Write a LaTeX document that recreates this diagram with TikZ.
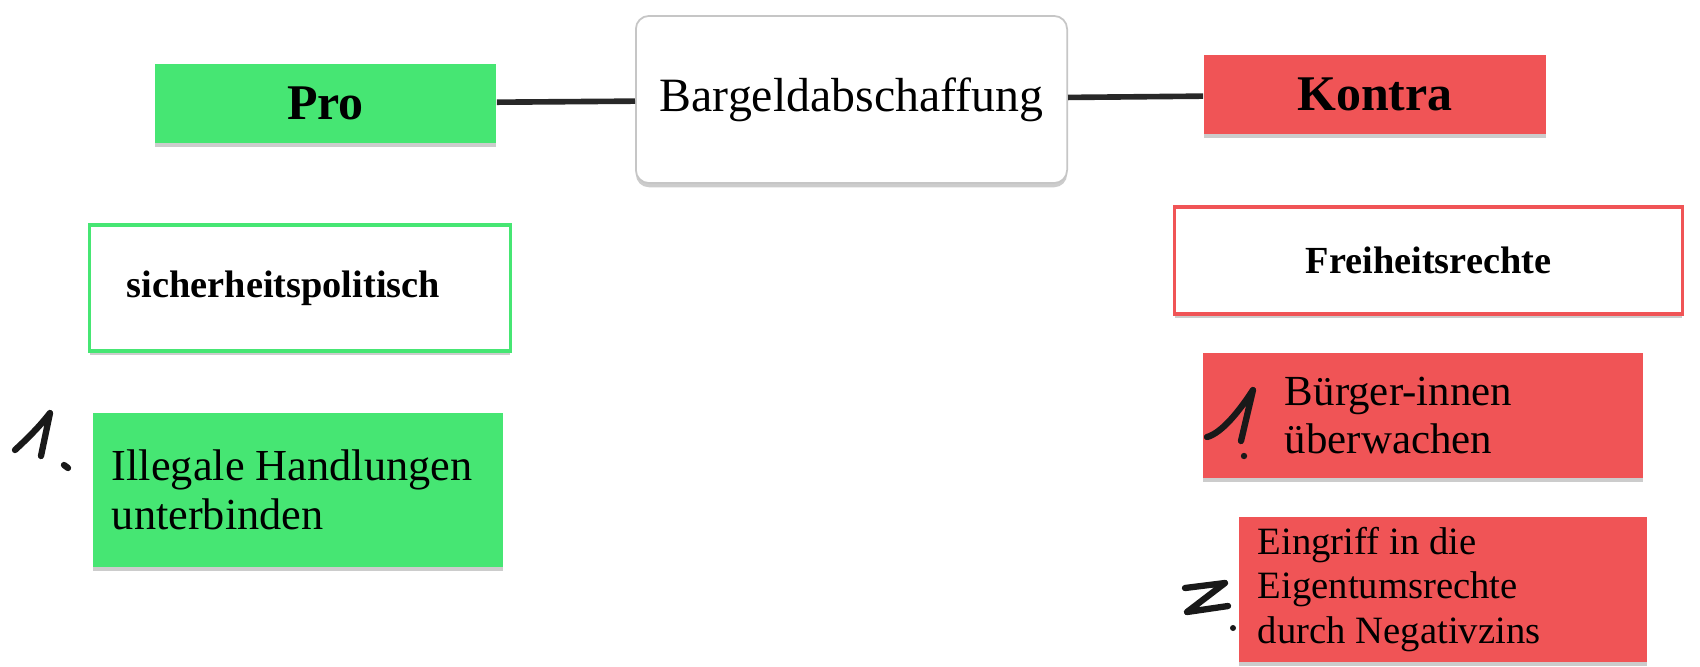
\documentclass[tikz,border=0pt]{standalone}
\usepackage{fontspec}
\setmainfont{Liberation Serif}
\usetikzlibrary{shadows}
\definecolor{progreen}{RGB}{70,230,115}
\definecolor{kontrared}{RGB}{240,84,86}
\definecolor{linegray}{RGB}{40,40,40}
\definecolor{ink}{RGB}{25,25,25}
\tikzset{
  box/.style={rectangle, inner sep=0pt, drop shadow={shadow xshift=0pt, shadow yshift=-1.2pt, opacity=0.4}},
  hand/.style={ink, line width=1.8pt, line cap=round, line join=round},
  conn/.style={linegray, line width=1.6pt}
}
\begin{document}
\begin{tikzpicture}[x=0.01cm, y=-0.01cm]
\useasboundingbox (0,0) rectangle (1700,666);
\node[box, fill=progreen, minimum width=3.41cm, minimum height=0.79cm, font=\fontsize{14.2}{17}\selectfont\bfseries] (pro) at (325.5,103.5) {Pro};
\node[box, fill=white, draw=gray!45, line width=0.5pt, rounded corners=0.13cm, minimum width=4.31cm, minimum height=1.67cm, font=\fontsize{13.6}{16}\selectfont] (thema) at (851.5,99.5) {Bargeldabschaffung};
\node[box, fill=kontrared, minimum width=3.42cm, minimum height=0.79cm, font=\fontsize{14.2}{17}\selectfont\bfseries] (kontra) at (1375,94.5) {Kontra};
\draw[conn] (pro) -- (thema);
\draw[conn] (thema) -- (kontra);
\node[box, fill=white, draw=progreen, line width=0.9pt, minimum width=4.2cm, minimum height=1.26cm, inner xsep=0.37cm, text width=3.46cm, align=flush left, font=\fontsize{10.9}{13}\selectfont\bfseries] (sicher) at (300,288) {sicherheitspolitisch};
\node[box, fill=white, draw=kontrared, line width=0.9pt, minimum width=5.07cm, minimum height=1.07cm, font=\fontsize{10.9}{13}\selectfont\bfseries] (freiheit) at (1428.5,260.5) {Freiheitsrechte};
\node[box, fill=progreen, minimum width=4.1cm, minimum height=1.54cm, inner xsep=0.19cm, text width=3.72cm, align=flush left, font=\fontsize{12.6}{14}\selectfont] (illegal) at (298,490) {Illegale Handlungen\\unterbinden};
\node[box, fill=kontrared, minimum width=4.4cm, minimum height=1.25cm, inner xsep=0.82cm, text width=2.76cm, align=flush left, font=\fontsize{12.2}{13.5}\selectfont] (buerger) at (1423,415.5) {Bürger-innen\\überwachen};
\node[box, fill=kontrared, minimum width=4.08cm, minimum height=1.45cm, inner xsep=0.19cm, text width=3.7cm, align=flush left, font=\fontsize{11}{12.6}\selectfont] (eingriff) at (1443,589.5) {Eingriff in die\\Eigentumsrechte\\durch Negativzins};
\draw[hand] (15,450) .. controls (28,438) and (40,426) .. (50,413) -- (41,456);
\draw[hand] (64,465) -- (68,468);
\draw[hand] (1207,437) .. controls (1222,433) and (1240,410) .. (1253,390) -- (1241,441);
\fill[ink] (1244,456) circle (3.2);
\draw[hand] (1185,588) -- (1225,583) -- (1187,612) -- (1228,606);
\fill[ink] (1233,628) circle (3);
\end{tikzpicture}
\end{document}
